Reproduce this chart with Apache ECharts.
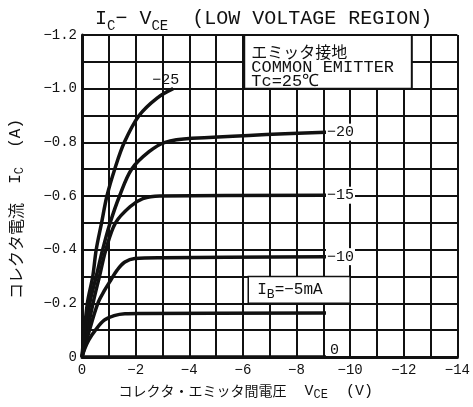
<!DOCTYPE html>
<html><head><meta charset="utf-8">
<script src="https://cdn.jsdelivr.net/npm/echarts@6/dist/echarts.min.js"></script>
<style>html,body{margin:0;padding:0;background:#fff}#c{width:473px;height:407px}</style>
</head><body><div id="c"></div>
<script>
// [VCE (V), IC (A)] for each base current
const ib0  = [[0,0],[-9.1,0]];
const ib5  = [[0,0],[-0.1,-0.03],[-0.25,-0.063],[-0.5,-0.1],[-0.83,-0.137],[-1.2,-0.154],[-1.6,-0.161],[-2.2,-0.162],[-9.1,-0.164]];
const ib10 = [[0,0],[-0.25,-0.09],[-0.59,-0.2],[-0.85,-0.25],[-1.07,-0.286],[-1.31,-0.324],[-1.6,-0.354],[-1.97,-0.367],[-3,-0.37],[-9.1,-0.374]];
const ib15 = [[0,0],[-0.41,-0.2],[-0.65,-0.3],[-0.89,-0.4],[-1.25,-0.5],[-1.79,-0.56],[-2.27,-0.59],[-2.9,-0.6],[-9.1,-0.603]];
const ib20 = [[0,0],[-0.29,-0.2],[-0.53,-0.3],[-0.77,-0.4],[-1.05,-0.5],[-1.4,-0.6],[-1.85,-0.7],[-2.5,-0.765],[-3.1,-0.8],[-4.1,-0.815],[-9.1,-0.838]];
const ib25 = [[0,0],[-0.2,-0.2],[-0.4,-0.3],[-0.53,-0.4],[-0.73,-0.5],[-0.93,-0.6],[-1.22,-0.7],[-1.58,-0.8],[-2.13,-0.9],[-2.8,-0.965],[-3.4,-1.0]];
const curveLabels = ['0','\u221225','\u221220','\u221215','\u221210'];
const infoBox = [[-6.05,-1.2],[-12.3,-1.0]];
const ibBox = [[-6.2,-0.3],[-10,-0.2]];

const MONO = '"Liberation Mono", "DejaVu Sans Mono", monospace';
const CJK = '"Noto Sans CJK JP", sans-serif';
const INK = '#111';

function tickX(v){ if (v===0) return '0'; return (Math.round(v)%2===0) ? '\u2212'+Math.abs(v) : ''; }
function tickY(v){ const k=Math.round(v*10); if (k===0) return '0'; return (k%2===0) ? '\u2212'+Math.abs(k/10).toFixed(1) : ''; }

function curve(data, label, endOpt){
  const s = {type:'line', data:data, smooth:0.35, symbol:'none', silent:true,
    lineStyle:{color:INK, width:3.5}, z:3};
  if (label!==null){
    s.endLabel = Object.assign({show:true, formatter:label, color:INK, fontFamily:MONO, fontSize:15,
      align:'left', verticalAlign:'middle',
      backgroundColor:'#fff', padding:[1,1], distance:0}, endOpt||{});
  }
  return s;
}

const chart = echarts.init(document.getElementById('c'));

chart.setOption({
  animation:false,
  title:{
    text:'{b|I}{s|C}{b|\u2212 V}{s|CE}{b|  (LOW VOLTAGE REGION)}',
    left:90, top:0,
    textStyle:{rich:{
      b:{fontFamily:MONO, fontSize:20, fontWeight:'normal', lineHeight:28, verticalAlign:'middle', color:INK},
      s:{fontFamily:MONO, fontSize:14, fontWeight:'normal', lineHeight:13, verticalAlign:'bottom', color:INK}
    }}
  },
  grid:{left:77, right:8, top:35, bottom:50},
  xAxis:{
    type:'value', min:-14, max:0, interval:1, inverse:true,
    axisLine:{show:true, lineStyle:{color:INK, width:3}},
    axisTick:{show:false},
    splitLine:{show:true, lineStyle:{color:INK, width:2}},
    axisLabel:{formatter:tickX, color:INK, fontFamily:MONO, fontSize:14, margin:6},
    name:'{j|コレクタ・エミッタ間電圧}{m|  V}{s|CE}{m|  (V)}',
    nameLocation:'middle', nameGap:24,
    nameTextStyle:{padding:[0,48,0,0], rich:{
      j:{fontFamily:CJK, fontSize:14, lineHeight:20, color:INK},
      m:{fontFamily:MONO, fontSize:15, lineHeight:20, color:INK},
      s:{fontFamily:MONO, fontSize:12, lineHeight:10, verticalAlign:'bottom', color:INK}}}
  },
  yAxis:{
    type:'value', min:-1.2, max:0, interval:0.1, inverse:true,
    axisLine:{show:true, lineStyle:{color:INK, width:3}},
    axisTick:{show:false},
    splitLine:{show:true, lineStyle:{color:INK, width:2}},
    axisLabel:{formatter:tickY, color:INK, fontFamily:MONO, fontSize:14, margin:5},
    name:'{j|コレクタ電流}{m|  I}{s|C}{m|  (A)}',
    nameLocation:'middle', nameRotate:90, nameGap:56,
    nameTextStyle:{padding:[0,26,0,0], rich:{
      j:{fontFamily:CJK, fontSize:16, lineHeight:20, color:INK},
      m:{fontFamily:MONO, fontSize:16, lineHeight:20, color:INK},
      s:{fontFamily:MONO, fontSize:12, lineHeight:10, verticalAlign:'bottom', color:INK}}}
  },
  series:[
    curve(ib0, curveLabels[0], {offset:[3,-7], backgroundColor:'transparent'}),
    curve(ib5, null),
    curve(ib10, curveLabels[4]),
    curve(ib15, curveLabels[3]),
    curve(ib20, curveLabels[2]),
    curve(ib25, curveLabels[1], {offset:[-22,-9], backgroundColor:'transparent'})
  ]
});

// annotation boxes placed through the chart's own scales
function boxRect(b){
  const p1 = chart.convertToPixel({gridIndex:0}, b[0]);
  const p2 = chart.convertToPixel({gridIndex:0}, b[1]);
  return {x:Math.min(p1[0],p2[0]), y:Math.min(p1[1],p2[1]), width:Math.abs(p2[0]-p1[0]), height:Math.abs(p2[1]-p1[1])};
}
const r1 = boxRect(infoBox), r2 = boxRect(ibBox);
chart.setOption({
  graphic:[
    {type:'rect', silent:true, z:2.8, shape:r1, style:{fill:'#fff', stroke:INK, lineWidth:2}},
    {type:'text', silent:true, z:2.9, x:r1.x+7, y:r1.y+9,
      style:{text:'{j|エミッタ接地}\n{m|COMMON EMITTER}\n{m|Tc=25\u2103}', fill:INK,
        rich:{j:{fontFamily:CJK, fontSize:16, lineHeight:16, fill:INK}, m:{fontFamily:MONO, fontSize:17, lineHeight:14, fill:INK}}}},
    {type:'rect', silent:true, z:2.8, shape:r2, style:{fill:'#fff', stroke:INK, lineWidth:1.5}},
    {type:'text', silent:true, z:2.9, x:r2.x+9, y:r2.y+r2.height/2,
      style:{text:'{m|I}{s|B}{m|=\u22125mA}', fill:INK, verticalAlign:'middle',
        rich:{m:{fontFamily:MONO, fontSize:16, lineHeight:22, fill:INK}, s:{fontFamily:MONO, fontSize:13, lineHeight:11, verticalAlign:'bottom', fill:INK}}}}
  ]
});
</script></body></html>
